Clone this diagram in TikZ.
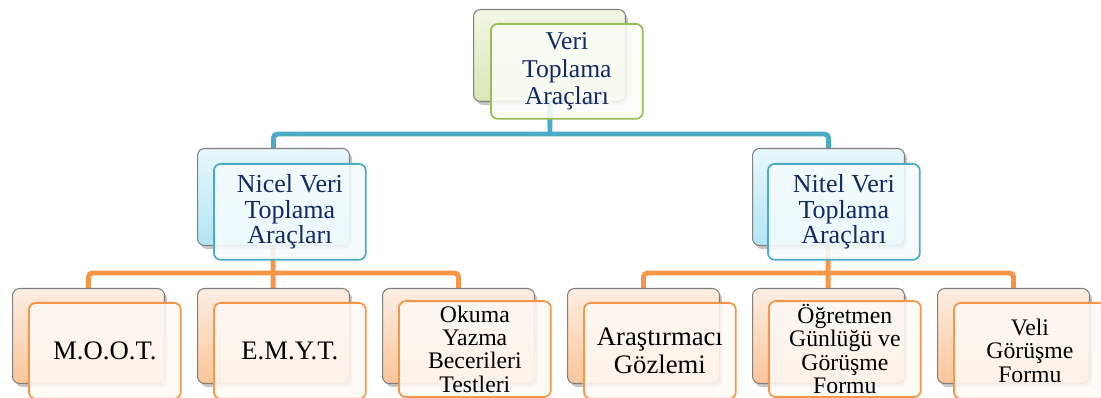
\documentclass[tikz,border=0pt]{standalone}
\usepackage{fontspec}
\setmainfont{Liberation Serif}
\usetikzlibrary{shadows,backgrounds}
\definecolor{aqua}{RGB}{75,172,198}
\definecolor{orng}{RGB}{247,150,70}
\definecolor{grn}{RGB}{155,187,89}
\definecolor{navy}{RGB}{20,40,98}
\definecolor{edgegray}{RGB}{128,128,128}
\definecolor{gTop}{RGB}{242,247,230}
\definecolor{gBot}{RGB}{216,231,182}
\definecolor{cTop}{RGB}{232,248,253}
\definecolor{cBot}{RGB}{178,229,245}
\definecolor{pTop}{RGB}{253,238,226}
\definecolor{pBot}{RGB}{251,197,154}
\definecolor{gFront}{RGB}{251,253,247}
\definecolor{cFront}{RGB}{245,252,254}
\definecolor{pFront}{RGB}{254,249,245}
\begin{document}
\begin{tikzpicture}[x=0.02cm,y=-0.02cm,
  backbox/.style={draw=edgegray, line width=0.6pt, rounded corners=0.14cm,
    minimum width=3.04cm, minimum height=1.9cm, anchor=north west, inner sep=0pt,
    drop shadow={opacity=0.45, shadow xshift=1.5pt, shadow yshift=-2pt}},
  backG/.style={backbox, top color=gTop, bottom color=gBot, minimum height=1.84cm},
  backC/.style={backbox, top color=cTop, bottom color=cBot, minimum height=1.94cm},
  backP/.style={backbox, top color=pTop, bottom color=pBot},
  frontbox/.style={line width=1pt, rounded corners=0.14cm, fill opacity=0.88, text opacity=1,
    minimum width=3.04cm, minimum height=1.9cm, anchor=north west, inner sep=0pt, align=center},
  frontG/.style={frontbox, draw=grn, fill=gFront, text=navy, font=\fontsize{14.6}{15.6}\selectfont},
  frontC/.style={frontbox, draw=aqua, fill=cFront, text=navy, minimum height=1.92cm, font=\fontsize{14.8}{14.4}\selectfont},
  frontP/.style={frontbox, draw=orng, fill=pFront, text=black, minimum height=1.92cm},
  bigtext/.style={font=\fontsize{15.2}{15.6}\selectfont},
  smalltext/.style={font=\fontsize{13.5}{13.3}\selectfont},
  blueline/.style={draw=aqua, line width=2.8pt, rounded corners=0.08cm},
  orangeline/.style={draw=orng, line width=2.8pt, rounded corners=0.08cm}
]
\useasboundingbox (0,0) rectangle (1101,398);

% back boxes
\node[backG] (n0b) at (473,9) {};
\node[backC] (n1b) at (197,148) {};
\node[backC] (n2b) at (752,148) {};
\node[backP] (a1b) at (12,288) {};
\node[backP] (a2b) at (197,288) {};
\node[backP] (a3b) at (382,288) {};
\node[backP] (b1b) at (567,288) {};
\node[backP] (b2b) at (752,288) {};
\node[backP] (b3b) at (937,288) {};

% connectors (behind the boxes)
\coordinate (bus0) at (550,134);
\coordinate (bus1) at (273,273);
\coordinate (bus2) at (828,273);
\begin{pgfonlayer}{background}
\draw[blueline] (n0b.center) -- (bus0);
\draw[blueline] (bus0) -| (n1b.center);
\draw[blueline] (bus0) -| (n2b.center);
\draw[orangeline] (n1b.center) -- (bus1);
\draw[orangeline] (bus1) -| (a1b.center);
\draw[orangeline] (bus1) -| (a3b.center);
\draw[orangeline] (bus1) -- (a2b.center);
\draw[orangeline] (n2b.center) -- (bus2);
\draw[orangeline] (bus2) -| (b1b.center);
\draw[orangeline] (bus2) -| (b3b.center);
\draw[orangeline] (bus2) -- (b2b.center);
\end{pgfonlayer}

% front boxes
\node[frontG] (n0) at (490,23) {Veri\\Toplama\\Araçları};
\node[frontC] (n1) at (213,163) {Nicel Veri\\Toplama\\Araçları};
\node[frontC] (n2) at (767,163) {Nitel Veri\\Toplama\\Araçları};
\node[frontP, bigtext] (a1) at (28,302) {M.O.O.T.};
\node[frontP, bigtext] (a2) at (213,302) {E.M.Y.T.};
\node[frontP, smalltext, yshift=1pt] (a3) at (398,302) {Okuma\\Yazma\\Becerileri\\Testleri};
\node[frontP, bigtext] (b1) at (583,302) {Araştırmacı\\Gözlemi};
\node[frontP, smalltext, yshift=1pt] (b2) at (768,302) {Öğretmen\\Günlüğü ve\\Görüşme\\Formu};
\node[frontP, smalltext] (b3) at (953,302) {Veli\\Görüşme\\Formu};
\end{tikzpicture}
\end{document}
